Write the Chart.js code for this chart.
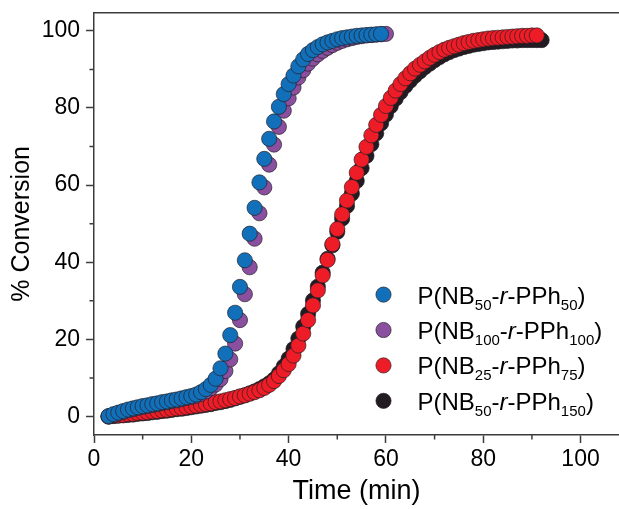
<!DOCTYPE html>
<html>
<head>
<meta charset="utf-8">
<script src="https://cdn.jsdelivr.net/npm/chart.js@4.4.1/dist/chart.umd.min.js"></script>
<style>
  body { margin: 0; background: #fff; }
  #wrap { width: 619px; height: 509px; }
</style>
</head>
<body>
<div id="wrap"><canvas id="mycanvas"></canvas></div>
<script>
// sampling: one reading per minute, first reading at 3 min
var startTime = 3;

var convNB50 = [0.1,0.6,1.0,1.4,1.8,2.1,2.4,2.7,2.9,3.2,3.4,3.7,3.9,4.2,4.4,4.7,5.0,5.3,5.7,6.3,7.1,8.2,9.8,12.5,16.3,21.1,26.9,33.6,40.5,47.4,54.1,60.7,66.8,72.0,76.5,80.3,83.6,86.2,88.4,90.8,92.6,94.0,95.0,95.8,96.5,97.0,97.4,97.8,98.1,98.3,98.5,98.7,98.8,98.9,99.0,99.1,99.2];
var convNB100 = [0.0,0.4,0.8,1.2,1.6,1.9,2.2,2.5,2.7,3.0,3.2,3.5,3.7,4.0,4.2,4.5,4.8,5.1,5.4,5.9,6.5,7.3,8.3,9.7,11.8,14.8,18.9,25.0,31.7,38.7,46.1,52.7,59.4,65.3,70.5,75.1,79.3,82.5,85.3,87.9,89.8,91.5,92.8,93.9,94.8,95.6,96.3,96.9,97.4,97.8,98.1,98.4,98.6,98.8,98.9,99.0,99.1,99.2];
var convNB25 = [0.0,0.2,0.3,0.4,0.6,0.7,0.9,1.0,1.1,1.3,1.4,1.6,1.7,1.9,2.1,2.2,2.4,2.6,2.8,3.0,3.2,3.4,3.7,3.9,4.2,4.5,4.8,5.2,5.5,5.9,6.3,6.8,7.4,8.2,9.2,10.5,12.0,13.6,15.8,18.4,21.5,25.0,28.8,32.7,36.6,40.6,44.7,48.6,52.4,56.0,59.5,63.2,66.6,69.9,72.9,75.6,78.2,80.5,82.6,84.5,86.2,87.7,89.0,90.2,91.2,92.1,93.0,93.8,94.5,95.1,95.6,96.0,96.4,96.8,97.1,97.4,97.6,97.8,98.0,98.1,98.2,98.3,98.4,98.5,98.6,98.7,98.7,98.8,98.8];
var convNB50b = [0.0,0.1,0.2,0.3,0.4,0.5,0.7,0.8,0.9,1.1,1.2,1.4,1.5,1.7,1.9,2.0,2.2,2.4,2.6,2.8,3.0,3.2,3.5,3.7,4.0,4.3,4.7,5.1,5.5,6.0,6.5,7.1,7.8,8.6,9.6,11.2,13.0,15.0,17.5,20.2,23.3,26.6,30.1,33.7,37.3,40.9,44.4,47.9,51.3,54.6,57.8,61.1,64.4,67.6,70.6,73.4,76.0,78.3,80.5,82.4,84.1,85.7,87.1,88.4,89.5,90.6,91.5,92.4,93.2,93.9,94.5,95.0,95.4,95.8,96.1,96.4,96.6,96.8,97.0,97.1,97.2,97.3,97.4,97.5,97.5,97.6,97.6,97.6,97.6,97.6];

var seriesColors = ['#1170b9', '#8b4f9f', '#ee1c26', '#231b22'];
var legendSubA = ['50', '100', '25', '50'];
var legendSubB = ['50', '100', '75', '150'];

var xTicks = [0, 20, 40, 60, 80, 100];
var yTicks = [0, 20, 40, 60, 80, 100];

var FONT = "'Liberation Sans', Arial, sans-serif";

function toPoints(conv) {
	var pts = [];
	for (var i in conv) {
		pts.push({ x: startTime + Number(i), y: conv[i] });
	}
	return pts;
}

var allConv = [convNB50, convNB100, convNB25, convNB50b];
var datasets = [];
for (var i = 0; i < allConv.length; i++) {
	datasets.push({
		label: 'P(NB' + legendSubA[i] + '-r-PPh' + legendSubB[i] + ')',
		data: toPoints(allConv[i]),
		backgroundColor: seriesColors[i],
		borderColor: 'rgba(35,30,35,0.85)',
		borderWidth: 0.8,
		pointRadius: 7.6,
		pointHoverRadius: 7.6,
		showLine: false
	});
}

function isMajor(v, list) { return list.indexOf(v) >= 0; }

// minor ticks + top frame line
var extras = {
	id: 'extras',
	afterDraw: function(chart) {
		var c = chart.ctx, a = chart.chartArea;
		var xs = chart.scales.x, ys = chart.scales.y;
		c.save();
		c.strokeStyle = '#3c3c3c';
		c.lineWidth = 1.5;
		c.beginPath();
		c.moveTo(a.left, a.top);
		c.lineTo(a.right, a.top);
		for (var v = 10; v < xs.max; v += 20) {
			var px = xs.getPixelForValue(v);
			c.moveTo(px, a.bottom);
			c.lineTo(px, a.bottom + 4.5);
		}
		for (var w = 10; w < ys.max; w += 20) {
			var py = ys.getPixelForValue(w);
			c.moveTo(a.left, py);
			c.lineTo(a.left - 4.5, py);
		}
		c.stroke();
		c.restore();
	}
};

// legend with subscripts and italic r
var richLegend = {
	id: 'richLegend',
	afterDraw: function(chart) {
		var c = chart.ctx;
		var xs = chart.scales.x, ys = chart.scales.y;
		var mx = xs.getPixelForValue(59.5);
		var y0 = ys.getPixelForValue(31.6);
		var step = 35.4;
		var big = 24, small = 15;
		for (var i = 0; i < seriesColors.length; i++) {
			var cy = y0 + i * step;
			c.save();
			c.beginPath();
			c.arc(mx, cy, 7.6, 0, Math.PI * 2);
			c.fillStyle = seriesColors[i];
			c.fill();
			c.lineWidth = 0.8;
			c.strokeStyle = 'rgba(35,30,35,0.85)';
			c.stroke();
			var parts = [
				['P(NB', big, ''], [legendSubA[i], small, 'sub'], ['-', big, ''],
				['r', big, 'italic'], ['-PPh', big, ''], [legendSubB[i], small, 'sub'], [')', big, '']
			];
			var tx = mx + 34;
			var base = cy + 9;
			c.fillStyle = '#000';
			c.textBaseline = 'alphabetic';
			c.textAlign = 'left';
			for (var k = 0; k < parts.length; k++) {
				var p = parts[k];
				c.font = (p[2] === 'italic' ? 'italic ' : '') + p[1] + 'px ' + FONT;
				c.fillText(p[0], tx, p[2] === 'sub' ? base + 6 : base);
				tx += c.measureText(p[0]).width;
			}
			c.restore();
		}
	}
};

var ctx = document.getElementById('mycanvas');
var chart = new Chart(ctx, {
	type: 'scatter',
	data: { datasets: datasets },
	plugins: [extras, richLegend],
	options: {
		responsive: true,
		maintainAspectRatio: false,
		animation: false,
		devicePixelRatio: 1,
		layout: { autoPadding: false, padding: { top: 12.7, right: 0, left: 0, bottom: 0 } },
		plugins: { legend: { display: false }, tooltip: { enabled: false } },
		scales: {
			x: {
				type: 'linear',
				min: 0,
				max: 107.9,
				afterFit: function(s) { s.height = 74; s.paddingLeft = 0; s.paddingRight = 0; },
				border: { display: true, color: '#3c3c3c', width: 1.5 },
				grid: {
					drawOnChartArea: false,
					drawTicks: true,
					tickLength: 8,
					tickWidth: 1.5,
					tickColor: function(c) { return c.tick && isMajor(c.tick.value, xTicks) ? '#3c3c3c' : 'rgba(0,0,0,0)'; }
				},
				ticks: {
					stepSize: 20,
					includeBounds: false,
					padding: 3,
					color: '#000',
					font: { family: FONT, size: 23 },
					maxRotation: 0,
					callback: function(v) { return isMajor(v, xTicks) ? String(v) : ''; }
				},
				title: {
					display: true,
					text: 'Time (min)',
					color: '#000',
					font: { family: FONT, size: 27 },
					padding: { top: 0, bottom: 1 }
				}
			},
			y: {
				type: 'linear',
				min: -4.8,
				max: 104.7,
				afterFit: function(s) { s.width = 94; s.paddingTop = 0; s.paddingBottom = 0; },
				border: { display: true, color: '#3c3c3c', width: 1.5 },
				grid: {
					drawOnChartArea: false,
					drawTicks: true,
					tickLength: 8,
					tickWidth: 1.5,
					tickColor: function(c) { return c.tick && isMajor(c.tick.value, yTicks) ? '#3c3c3c' : 'rgba(0,0,0,0)'; }
				},
				ticks: {
					stepSize: 20,
					includeBounds: false,
					padding: 6,
					color: '#000',
					font: { family: FONT, size: 23 },
					callback: function(v) { return isMajor(v, yTicks) ? String(v) : ''; }
				},
				title: {
					display: true,
					text: '% Conversion',
					color: '#000',
					font: { family: FONT, size: 25 },
					padding: { top: 7, bottom: 0 }
				}
			}
		}
	}
});
</script>
</body>
</html>
